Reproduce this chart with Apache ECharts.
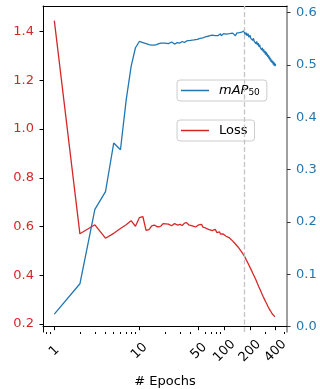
<!DOCTYPE html>
<html>
<head>
<meta charset="utf-8">
<script src="https://cdn.jsdelivr.net/npm/echarts@6/dist/echarts.min.js"></script>
<style>html,body{margin:0;padding:0;background:#fff}#c{width:320px;height:389px}</style>
</head>
<body>
<div id="c"></div>
<script>
const epochs = [1,2,3,4,5,6,7,8,9,10,11,12,13,14,15,16,17,18,19,20,
22,24,26,28,30,32,34,36,38,40,42,44,46,48,50,52,54,56,58,60,62,64,66,68,70,72,74,76,78,80,82,84,86,88,90,92,94,96,98,100,
105,110,115,120,125,130,135,140,145,150,155,160,165,170,175,180,185,190,195,200,205,210,215,220,225,230,235,240,245,250,
255,260,265,270,275,280,285,290,295,300,305,310,315,320,325,330,335,340,345,350,355,360,365,370,375,380,385,390,395,400];
const lossValues = [1.445,0.570,0.607,0.552,0.572,0.592,0.607,0.624,0.601,0.636,0.641,0.584,0.587,0.603,0.606,0.600,0.598,0.602,0.612,0.605,
0.610,0.603,0.612,0.606,0.609,0.604,0.614,0.616,0.607,0.611,0.603,0.609,0.598,0.606,0.607,0.601,0.609,0.597,0.603,0.594,
0.601,0.589,0.597,0.586,0.594,0.583,0.591,0.579,0.588,0.580,0.575,0.583,0.572,0.578,0.569,0.575,0.566,0.570,0.562,0.565,
0.560,0.557,0.553,0.549,0.541,0.536,0.528,0.521,0.516,0.508,0.502,0.495,0.489,0.481,0.474,0.465,0.458,0.449,0.442,0.433,
0.426,0.418,0.409,0.402,0.396,0.388,0.381,0.374,0.366,0.360,0.352,0.346,0.339,0.333,0.326,0.321,0.314,0.309,0.303,0.298,
0.292,0.288,0.283,0.279,0.273,0.270,0.264,0.261,0.256,0.253,0.249,0.246,0.242,0.240,0.237,0.235,0.233,0.232,0.230,0.229];
const mapValues = [0.024,0.082,0.224,0.258,0.351,0.338,0.433,0.497,0.533,0.545,0.543,0.541,0.539,0.538,0.538,0.539,0.541,0.542,0.540,0.542,
0.541,0.544,0.540,0.543,0.542,0.545,0.543,0.546,0.544,0.547,0.545,0.548,0.546,0.549,0.548,0.551,0.549,0.552,0.551,0.554,
0.552,0.555,0.553,0.556,0.554,0.557,0.555,0.558,0.556,0.559,0.557,0.556,0.559,0.557,0.560,0.556,0.559,0.557,0.560,0.558,
0.559,0.556,0.560,0.557,0.561,0.558,0.556,0.561,0.558,0.562,0.559,0.563,0.560,0.565,0.558,0.562,0.556,0.560,0.553,0.557,
0.551,0.554,0.547,0.551,0.545,0.548,0.541,0.545,0.538,0.542,0.535,0.539,0.533,0.536,0.529,0.533,0.526,0.530,0.523,0.527,
0.520,0.525,0.518,0.522,0.515,0.519,0.512,0.516,0.509,0.513,0.506,0.510,0.504,0.508,0.501,0.506,0.499,0.504,0.498,0.502];
const xLabelTicks = [1,10,50,100,200,400];
const xMinorTicks = [0.8,0.9,2,3,4,5,6,7,8,9,20,30,40,60,70,80,90,300,500];
const lossTicks = [0.2,0.4,0.6,0.8,1.0,1.2,1.4];
const mapTicks = [0.0,0.1,0.2,0.3,0.4,0.5,0.6];
const bestEpoch = 170;

const RED = '#d62728', BLUE = '#1f77b4';
const FONT = 'DejaVu Sans';
const chart = echarts.init(document.getElementById('c'), null, {renderer: 'canvas'});
const xMin = 0.736, xMax = 546;
const legendBase = {
  orient: 'vertical', left: 177,
  backgroundColor: 'rgba(255,255,255,0.8)', borderColor: '#cccccc', borderWidth: 1, borderRadius: 3,
  padding: [4, 7, 4, 4], itemWidth: 28, itemHeight: 1.5, icon: 'rect'
};
chart.setOption({
  animation: false,
  textStyle: {fontFamily: FONT},
  grid: {left: 43, right: 33, top: 6, bottom: 57, containLabel: false, outerBoundsMode: 'none'},
  xAxis: [
    {type: 'log', logBase: 10, min: xMin, max: xMax, position: 'bottom',
     name: '# Epochs', nameLocation: 'middle', nameGap: 43,
     nameTextStyle: {fontFamily: FONT, fontSize: 13, color: '#000'},
     axisLine: {show: true, lineStyle: {color: '#000', width: 1}},
     axisTick: {show: true, length: 3.5, customValues: xLabelTicks, lineStyle: {color: '#000'}},
     axisLabel: {customValues: xLabelTicks, rotate: 45, align: 'center', verticalAlign: 'middle', margin: 19,
       fontFamily: FONT, fontSize: 13, color: '#000', formatter: v => String(v)},
     splitLine: {show: false}, minorTick: {show: false}},
    {type: 'log', logBase: 10, min: xMin, max: xMax, position: 'bottom',
     axisLine: {show: false},
     axisTick: {show: true, length: 2, customValues: xMinorTicks, lineStyle: {color: '#000'}},
     axisLabel: {show: false}, splitLine: {show: false}},
    {type: 'log', logBase: 10, min: xMin, max: xMax, position: 'top',
     axisLine: {show: true, lineStyle: {color: '#000', width: 1}},
     axisTick: {show: false}, axisLabel: {show: false}, splitLine: {show: false}}
  ],
  yAxis: [
    {type: 'value', min: 0.167, max: 1.505, position: 'left',
     axisLine: {show: true, lineStyle: {color: '#000', width: 1}},
     axisTick: {show: true, length: 3.5, customValues: lossTicks, lineStyle: {color: '#000'}},
     axisLabel: {customValues: lossTicks, margin: 9, fontFamily: FONT, fontSize: 13, color: RED,
       formatter: v => v.toFixed(1)},
     splitLine: {show: false}},
    {type: 'value', min: -0.0102, max: 0.6128, position: 'right',
     axisLine: {show: true, lineStyle: {color: '#7f7f7f', width: 1.5}},
     axisTick: {show: true, length: 3.5, customValues: mapTicks, lineStyle: {color: '#333'}},
     axisLabel: {customValues: mapTicks, margin: 9, fontFamily: FONT, fontSize: 13, color: BLUE,
       formatter: v => v.toFixed(1)},
     splitLine: {show: false}}
  ],
  legend: [
    Object.assign({}, legendBase, {data: ['mAP50'], top: 80,
     formatter: () => '{i|mAP}{s|50}',
     textStyle: {fontFamily: FONT, fontSize: 13, color: '#000', padding: [0, 0, 0, 5],
       rich: {i: {fontFamily: FONT, fontSize: 13, fontStyle: 'italic', color: '#000'},
              s: {fontFamily: FONT, fontSize: 9, color: '#000', verticalAlign: 'bottom', padding: [4, 0, 0, 0]}}}}),
    Object.assign({}, legendBase, {data: ['Loss'], top: 120,
     textStyle: {fontFamily: FONT, fontSize: 13, color: '#000', padding: [0, 0, 0, 5]}})
  ],
  series: [
    {name: 'Loss', type: 'line', xAxisIndex: 0, yAxisIndex: 0, symbol: 'none', z: 2,
     data: epochs.map((e, i) => [e, lossValues[i]]),
     lineStyle: {color: RED, width: 1.3}, itemStyle: {color: RED},
     markLine: {silent: true, symbol: 'none', label: {show: false},
       lineStyle: {color: '#c4c4c4', type: [5, 2.5], width: 1.3},
       data: [{xAxis: bestEpoch}]}},
    {name: 'mAP50', type: 'line', xAxisIndex: 0, yAxisIndex: 1, symbol: 'none', z: 3,
     data: epochs.map((e, i) => [e, mapValues[i]]),
     lineStyle: {color: BLUE, width: 1.3}, itemStyle: {color: BLUE}}
  ]
});
</script>
</body>
</html>
